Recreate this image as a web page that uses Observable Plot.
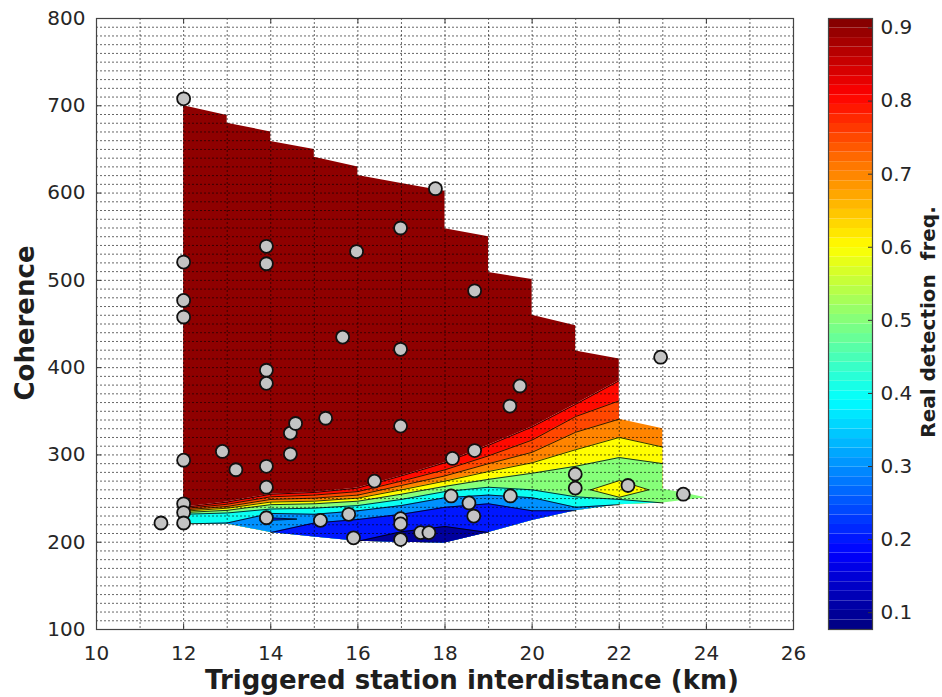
<!DOCTYPE html>
<html>
<head>
<meta charset="utf-8">
<script src="https://cdn.jsdelivr.net/npm/d3@7"></script>
<script src="https://cdn.jsdelivr.net/npm/@observablehq/plot@0.6"></script>
<style>
  html,body{margin:0;padding:0;background:#fff;}
  #chart{position:relative;width:942px;height:697px;font-family:"DejaVu Sans",sans-serif;color:#262626;overflow:hidden;background:#fff;}
  #main{position:absolute;left:0;top:0;}
  #cbar{position:absolute;left:828px;top:0;}
  .lbl{position:absolute;font-weight:bold;white-space:pre;line-height:1;color:#1e1e1e;}
</style>
</head>
<body>
<div id="chart">
  <div id="main"></div>
  <div id="cbar"></div>
  <div class="lbl" style="font-size:26px;left:472px;top:667px;transform:translateX(-50%);">Triggered station interdistance (km)</div>
  <div class="lbl" style="font-size:26px;left:25px;top:323px;transform:translate(-50%,-50%) rotate(-90deg);">Coherence</div>
  <div class="lbl" style="font-size:20px;left:928px;top:322px;transform:translate(-50%,-50%) rotate(-90deg);">Real detection  freq.</div>
</div>
<script>
// ---------- data ----------
const distance  = [12.00,12.00,12.00,12.00,12.00,12.00,12.00,12.00,11.48,12.89,13.20,13.90,13.90,13.90,13.90,13.90,13.90,13.90,14.45,14.57,14.45,15.26,15.65,15.97,15.14,15.79,15.90,16.38,16.98,16.98,16.98,16.98,16.98,16.98,17.44,17.63,17.78,18.68,18.68,18.17,18.14,18.55,18.66,19.49,19.72,19.50,20.99,20.99,22.20,22.95,23.47];
const coherence = [708,521,477,458,294,244,234,222,222,304,283,539,519,397,382,287,263,228,325,336,301,342,435,533,225,232,205,270,560,421,333,227,221,203,211,211,605,488,305,296,253,245,230,356,379,253,278,262,265,412,255];

const topX = [12,13,13,14,14,15,15,16,16,17,18,18,19,19,20,20,21,21,22];
const topY = [700,689,680,670,659,650,641,630,620,611,602,559,550,509,501,460,448,419,410];

const gridX = [12,13,14,15,16,17,18,19,20,21,22,23,23,24];
const lower = [221,221,211,206,201,200,199,211,225,236,243,245,245,251];
const c1 = [240,246,255,257,262,276,291,311,332,358,385,null,null,null];
const c2 = [238.5,243.5,252,254,258,270,283,299,317,344,362,null,null,null];
const c3 = [237,241,249,250.5,254,265,276,290,303,326,341,330,null,null];
const c4 = [235.5,239,246,247,250.5,260,270,281,291,306,320,309,null,null];
const c5 = [234,236.5,243,244,247,255,264,272,279,287,297,290,261,251];
const c6 = [232,233.5,238,239,242,249,258,263,260,252,249,245,245,251];
const c7 = [221,222,233,232,236,242,251,254,251,240,243,245,245,251];
const c8 = [221,221,211,222,226,232,240,244,236,236,243,245,245,251];
const c9 = [221,221,211,206,201,212,218,211,225,236,243,245,245,251];
const contourLines = [c1,c2,c3,c4,c5,c6,c7,c8,c9];
const topBand = 0.9;
const bandBelow = [0.8,0.75,0.7,0.6,0.5,0.4,0.3,0.2,0.1];

const diamondX = [21.34,22.0,22.68,22.0,21.34];
const diamondY = [260,270.6,260,251.5,260];
const diamondVal = 0.6;
const wedgeX = [13.75,14.6,13.75,13.75];
const wedgeY = [228.5,226.5,224.5,228.5];
const wedgeVal = 0.2;

const xTicks = [10,12,14,16,18,20,22,24,26];
const yTicks = [100,200,300,400,500,600,700,800];
const cTicks = [0.1,0.2,0.3,0.4,0.5,0.6,0.7,0.8,0.9];
const cMin = 0.077, cMax = 0.913;

// ---------- helpers ----------
function jet(t){
  const c = v => Math.round(255*Math.max(0, Math.min(1, v)));
  return `rgb(${c(1.5-Math.abs(4*t-3))},${c(1.5-Math.abs(4*t-2))},${c(1.5-Math.abs(4*t-1))})`;
}
const idx = x => gridX.indexOf(x);

const topRows = topX.map((x,i) => ({x, y1: c1[idx(x)], y2: topY[i], v: topBand}));

const fillMarks = contourLines.map((L,k) =>
  Plot.areaY(gridX.map((x,i) => ({x, y1: lower[i], y2: L[i], v: bandBelow[k]})),
    {x: "x", y1: "y1", y2: "y2", fill: "v", curve: "linear"})
);

function lineRows(L, k){
  const n = 12;
  const inside = [];
  for (let i = 0; i < n; i++) {
    const higherOk = k === 0 || contourLines[k-1][i] != null;
    inside[i] = L[i] != null && L[i] > lower[i] + 0.01 && higherOk;
  }
  const rows = [];
  for (let i = 0; i < n; i++) {
    const higherOk = k === 0 || contourLines[k-1][i] != null;
    const keep = L[i] != null && higherOk && (inside[i] || inside[i-1] || inside[i+1]);
    rows.push({x: gridX[i], y: keep ? L[i] : null});
  }
  return rows;
}
const lineMarks = contourLines.map((L,k) =>
  Plot.line(lineRows(L,k), {x: "x", y: "y", stroke: "#000", strokeWidth: 0.8})
);

const pts = distance.map((d,i) => ({d, c: coherence[i]}));

const gridStyle = {stroke: "#000", strokeOpacity: 0.6, strokeDasharray: "2,2", strokeWidth: 1};

const main = Plot.plot({
  width: 800, height: 697,
  marginLeft: 96, marginRight: 7, marginTop: 18, marginBottom: 68,
  x: {domain: [10, 26]},
  y: {domain: [100, 800]},
  color: {type: "linear", domain: [cMin, cMax], interpolate: jet},
  style: {fontFamily: "DejaVu Sans", fontSize: "20px", color: "#262626", background: "transparent", overflow: "visible"},
  marks: [
    Plot.areaY(topRows, {x: "x", y1: "y1", y2: "y2", fill: "v"}),
    ...fillMarks,
    Plot.line(diamondX.map((x,i)=>({x, y: diamondY[i], v: diamondVal})), {x:"x", y:"y", fill:"v", stroke:"#000", strokeWidth:0.8}),
    Plot.line(wedgeX.map((x,i)=>({x, y: wedgeY[i], v: wedgeVal})), {x:"x", y:"y", fill:"v", stroke:"#000", strokeWidth:0.8}),
    ...lineMarks,
    Plot.gridY(d3.range(100, 801, 10), gridStyle),
    Plot.gridX(d3.range(10, 27, 1), gridStyle),
    Plot.dot(pts, {x: "d", y: "c", r: 6.5, fill: "#c4c4c4", stroke: "#111", strokeWidth: 1.8}),
    Plot.tickX(xTicks, {x: d => d, insetTop: 606, stroke: "#333"}),
    Plot.tickX(xTicks, {x: d => d, insetBottom: 606, stroke: "#333"}),
    Plot.tickY(yTicks, {y: d => d, insetRight: 692, stroke: "#333"}),
    Plot.tickY(yTicks, {y: d => d, insetLeft: 692, stroke: "#333"}),
    Plot.axisX(xTicks, {tickSize: 0, tickPadding: 16, label: null}),
    Plot.axisY(yTicks, {tickSize: 0, tickPadding: 11, label: null}),
    Plot.frame({stroke: "#444", strokeWidth: 1.2})
  ]
});
document.getElementById("main").appendChild(main);

// ---------- colorbar ----------
const nCells = 64;
const cells = d3.range(nCells).map(i => ({
  y1: cMin + i*(cMax-cMin)/nCells,
  y2: cMin + (i+1)*(cMax-cMin)/nCells,
  v: cMin + (i+0.5)*(cMax-cMin)/nCells
}));
const cbar = Plot.plot({
  width: 114, height: 697,
  marginLeft: 0, marginRight: 70, marginTop: 18, marginBottom: 68,
  y: {domain: [cMin, cMax]},
  color: {type: "linear", domain: [cMin, cMax], interpolate: jet},
  style: {fontFamily: "DejaVu Sans", fontSize: "20px", color: "#262626", background: "transparent", overflow: "visible"},
  marks: [
    Plot.rect(cells, {y1: "y1", y2: "y2", fill: "v"}),
    Plot.tickY(cTicks, {y: d => d, insetLeft: 40, stroke: "#333"}),
    Plot.axisY(cTicks, {anchor: "right", tickSize: 0, tickPadding: 8, label: null, tickFormat: d3.format(".1f")}),
    Plot.frame({stroke: "#444", strokeWidth: 1.2})
  ]
});
document.getElementById("cbar").appendChild(cbar);
</script>
</body>
</html>
